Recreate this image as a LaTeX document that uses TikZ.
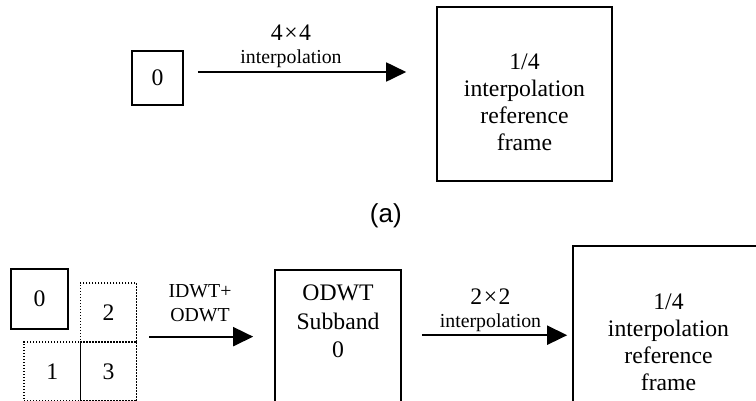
\documentclass[tikz,border=0pt]{standalone}
\usepackage{fontspec}
\setmainfont{Liberation Serif}
\newfontfamily\capsans{Liberation Sans}
\usetikzlibrary{arrows.meta,calc}

% font sizes (1pt = 1 unit of the picture)
\newcommand{\boxfont}{\fontsize{23.7}{27}\selectfont}
\newcommand{\subfont}{\fontsize{23.7}{28.5}\selectfont}
\newcommand{\lblfont}{\fontsize{19.8}{24}\selectfont}

\begin{document}
\begin{tikzpicture}[x=1pt,y=-1pt,
  blk/.style={draw,line width=1.6pt,inner sep=0pt,font=\boxfont},
  dotblk/.style={draw,line width=1.3pt,dash pattern=on 1.3pt off 1.7pt,
                 inner sep=0pt,minimum width=56.5pt,minimum height=59pt,font=\boxfont},
  txt/.style={inner sep=0pt,align=center},
  flow/.style={line width=1.8pt,-{Triangle[length=20pt,width=19pt]}},
]
\useasboundingbox (0,0) rectangle (756,400);
\clip (0,0) rectangle (756,400);

% ---------- (a) single subband interpolated directly ----------
\node[blk,minimum width=51pt,minimum height=54pt] (a0) at (157.5,78) {0};
\node[blk,minimum width=175pt,minimum height=174pt] (aref) at (524.5,94) {};
\node[txt,font=\boxfont] (areftxt) at (524.5,102.5)
  {1/4\\interpolation\\reference\\frame};

\coordinate (as) at ($(a0.east)+(14,-6)$);
\coordinate (ae) at ($(aref.west |- as)+(-30,0)$);
\draw[flow] (as) -- (ae);
\node[txt,anchor=base,font=\boxfont] (a44) at (291,40.8) {4\hspace{1.5pt}×\hspace{1.5pt}4};
\node[txt,anchor=base,font=\lblfont] (aint) at (291,63.3) {interpolation};

\node[inner sep=0pt,font=\capsans\fontsize{26}{30}\selectfont] (cap) at (385.8,215.5) {(a)};

% ---------- (b) via inverse and overcomplete DWT ----------
\node[blk,minimum width=57pt,minimum height=60pt] (b0) at (39.5,299) {0};
\node[dotblk] (b2) at (108.5,312.5) {2};
\node[dotblk] (b1) at (52.25,371.5) {1};
\node[dotblk] (b3) at (108.5,371.5) {3};

\coordinate (bs) at ($(b2.south east)+(12,-6)$);
\node[blk,minimum width=126pt,minimum height=150pt] (odwt) at (338,345) {};
\node[txt,font=\subfont] (odwttxt) at (338,321.7) {ODWT\\Subband\\0};
\coordinate (be) at ($(odwt.west |- bs)+(-21,0)$);
\draw[flow] (bs) -- (be);
\node[txt,anchor=base,font=\lblfont] (bidwt) at (200,321) {IDWT+\\ODWT};

\node[blk,minimum width=197pt,minimum height=180pt] (bref) at (671.5,336) {};
\node[txt,font=\boxfont] (breftxt) at (668.5,342.5)
  {1/4\\interpolation\\reference\\frame};

\coordinate (cs) at ($(odwt.north east)+(20,66)$);
\coordinate (ce) at ($(bref.west |- cs)+(-5,0)$);
\draw[flow] (cs) -- (ce);
\node[txt,anchor=base,font=\boxfont] (b22) at (490.5,304.5) {2\hspace{1.5pt}×\hspace{1.5pt}2};
\node[txt,anchor=base,font=\lblfont] (bint) at (490.5,327) {interpolation};
\end{tikzpicture}
\end{document}
